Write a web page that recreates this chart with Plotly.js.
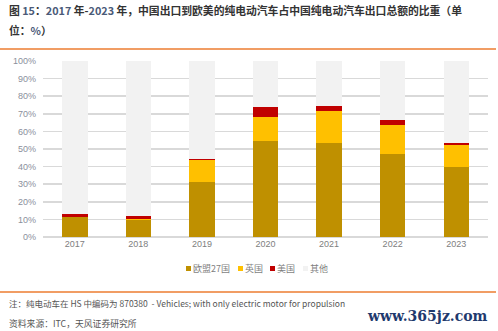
<!DOCTYPE html>
<html><head><meta charset="utf-8">
<script src="https://cdn.plot.ly/plotly-3.0.1.min.js"></script>
<style>html,body{margin:0;padding:0;background:#fff;}#chart{width:498px;height:331px;}</style>
</head><body><div id="chart"></div>
<script>
const years = ['2017','2018','2019','2020','2021','2022','2023'];
const eu27 = [11.1, 9.8, 31.5, 54.7, 53.3, 47.0, 39.6];
const uk   = [0.0, 0.5, 12.1, 13.6, 18.4, 16.7, 12.6];
const us   = [1.7, 1.7, 0.8, 5.7, 2.9, 2.5, 1.1];
const other = years.map((_, i) => +(100 - eu27[i] - uk[i] - us[i]).toFixed(1));
const seriesNames = ['欧盟27国', '英国', '美国', '其他'];
const tickVals = [0,10,20,30,40,50,60,70,80,90,100];
const tickText = tickVals.map(v => v + '%');

const colors = ['#BF9000', '#FFC000', '#C00000', '#F2F2F2'];
const data = [eu27, uk, us, other].map((vals, k) => ({
  type: 'bar', x: years, y: vals, name: seriesNames[k], showlegend: false,
  marker: {color: colors[k], line: {width: 0}}, hoverinfo: 'none'
}));

// pixel helpers (plot area: x 43..488, y 61..237)
const L = 43, R = 488, T = 61, B = 237;
const px = x => (x - L) / (R - L);
const py = y => (B - y) / (B - T);

const cjk = '"Noto Sans CJK SC", "Noto Sans", sans-serif';

// compact legend (small squares as in the reference)
const legendX = [186, 238, 270, 303];
const legendShapes = seriesNames.map((n, k) => ({
  type: 'rect', xref: 'paper', yref: 'paper',
  x0: px(legendX[k]), x1: px(legendX[k] + 5), y0: py(271), y1: py(266),
  fillcolor: colors[k], line: {width: 0}
}));
const legendAnn = seriesNames.map((n, k) => ({
  xref: 'paper', yref: 'paper', x: px(legendX[k] + 5), y: py(268.5), xanchor: 'left', yanchor: 'middle',
  showarrow: false, text: n, font: {family: cjk, size: 9, color: '#7f7f7f'}
}));

const layout = {
  width: 498, height: 331,
  margin: {l: L, r: 498 - R, t: T, b: 331 - B, pad: 0},
  paper_bgcolor: '#fff', plot_bgcolor: '#fff',
  barmode: 'stack', bargap: 0.6,
  showlegend: false,
  font: {family: cjk, size: 9, color: '#7f7f7f'},
  xaxis: {type: 'category', showgrid: false, zeroline: false, showline: false,
          ticks: '', tickfont: {family: 'Liberation Sans, Arial, sans-serif', size: 9, color: '#808080'}},
  yaxis: {range: [0, 100], tickvals: tickVals, ticktext: tickText, showgrid: true,
          gridcolor: '#D9D9D9', gridwidth: 1.5, zeroline: true, zerolinecolor: '#D9D9D9', zerolinewidth: 1.5,
          showline: false, ticks: '', ticklabelstandoff: 6,
          tickfont: {family: 'Liberation Sans, Arial, sans-serif', size: 9, color: '#8a8f9c'}},
  shapes: [
    {type: 'line', xref: 'paper', yref: 'paper', x0: px(0), x1: px(496), y0: py(49), y1: py(49),
     line: {color: '#ED7D31', width: 1.5}},
    {type: 'line', xref: 'paper', yref: 'paper', x0: px(0), x1: px(496), y0: py(292), y1: py(292),
     line: {color: '#ED7D31', width: 1.5}}
  ].concat(legendShapes),
  annotations: [
    {xref: 'paper', yref: 'paper', x: px(7), y: py(10), xanchor: 'left', yanchor: 'middle', showarrow: false,
     text: '<b>图 <span style="color:#4a5a78">15</span>：<span style="color:#4a5a78">2017</span> 年-<span style="color:#4a5a78">2023</span> 年，中国出口到欧美的纯电动汽车占中国纯电动汽车出口总额的比重（单</b>',
     font: {family: cjk, size: 10.8, color: '#333'}},
    {xref: 'paper', yref: 'paper', x: px(7), y: py(30), xanchor: 'left', yanchor: 'middle', showarrow: false,
     text: '<b>位：<span style="color:#4a5a78">%</span>）</b>',
     font: {family: cjk, size: 10.8, color: '#333'}},
    {xref: 'paper', yref: 'paper', x: px(7), y: py(303), xanchor: 'left', yanchor: 'middle', showarrow: false,
     text: '注：纯电动车在 HS 中编码为 870380  - Vehicles; with only electric motor for propulsion',
     font: {family: cjk, size: 8.5, color: '#555'}},
    {xref: 'paper', yref: 'paper', x: px(7), y: py(323), xanchor: 'left', yanchor: 'middle', showarrow: false,
     text: '资料来源：ITC，天风证券研究所',
     font: {family: cjk, size: 8.8, color: '#555'}},
    {xref: 'paper', yref: 'paper', x: px(490), y: py(316), xanchor: 'right', yanchor: 'middle', showarrow: false,
     text: '<b>www.365jz.com</b>',
     font: {family: '"DejaVu Serif", "Liberation Serif", serif', size: 14, color: '#1f3a6e'}}
  ].concat(legendAnn)
};
Plotly.newPlot('chart', data, layout, {displayModeBar: false, staticPlot: true});
</script></body></html>
